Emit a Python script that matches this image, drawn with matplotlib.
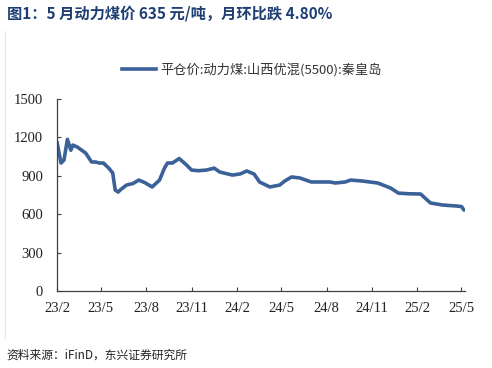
import pandas as pd
import matplotlib.pyplot as plt
from matplotlib.lines import Line2D

plt.rcParams["font.family"] = ["Noto Sans CJK SC", "DejaVu Sans"]

NAVY = "#3a6198"
TITLE_C = "#1f3f73"

# ── Data (approximate) ────────────────────────────────────────────────
dates = [
    "2023-02-01", "2023-02-04", "2023-02-09", "2023-02-15", "2023-02-22",
    "2023-03-01", "2023-03-05", "2023-03-14", "2023-03-31", "2023-04-12",
    "2023-04-20", "2023-04-28", "2023-05-06", "2023-05-17", "2023-05-25",
    "2023-05-30", "2023-06-05", "2023-06-09", "2023-06-22", "2023-07-05",
    "2023-07-17", "2023-07-30", "2023-08-13", "2023-08-28", "2023-09-07",
    "2023-09-13", "2023-09-23", "2023-10-07", "2023-10-22", "2023-11-01",
    "2023-11-15", "2023-12-01", "2023-12-17", "2023-12-28", "2024-01-23",
    "2024-02-08", "2024-02-21", "2024-03-07", "2024-03-18", "2024-04-08",
    "2024-04-28", "2024-05-08", "2024-05-22", "2024-06-08", "2024-07-01",
    "2024-08-08", "2024-08-19", "2024-09-08", "2024-09-19", "2024-10-14",
    "2024-11-13", "2024-12-09", "2024-12-25", "2025-01-15", "2025-02-08",
    "2025-02-28", "2025-03-25", "2025-04-23", "2025-05-02", "2025-05-07",
]
price = [
    1164, 1100, 1000, 1023, 1185,
    1100, 1140, 1125, 1078, 1008,
    1008, 1000, 1000, 960, 922,
    789, 773, 789, 828, 840,
    867, 845, 813, 867, 960,
    1000, 1000, 1035, 984, 945,
    940, 945, 960, 930, 906,
    915, 938, 914, 852, 813,
    828, 859, 891, 883, 852,
    852, 844, 852, 867, 859,
    844, 805, 765, 760, 758,
    688, 672, 664, 660, 633,
]
series_name = "平仓价:动力煤:山西优混(5500):秦皇岛"
yticks = [0, 300, 600, 900, 1200, 1500]
xtick_dates = ["2023-02-01", "2023-05-01", "2023-08-01", "2023-11-01", "2024-02-01",
               "2024-05-01", "2024-08-01", "2024-11-01", "2025-02-01", "2025-05-01"]
xtick_labels = ["23/2", "23/5", "23/8", "23/11", "24/2",
                "24/5", "24/8", "24/11", "25/2", "25/5"]

s = pd.Series(price, index=pd.to_datetime(dates))

fig = plt.figure(figsize=(4.92, 3.68), dpi=100)
fig.patch.set_facecolor("white")
ax = fig.add_axes([0.116, 0.209, 0.829, 0.522])

ax.plot(s.index, s.values, color=NAVY, linewidth=2.6, solid_joinstyle="round",
        solid_capstyle="round")

ax.set_ylim(0, 1500)
ax.set_yticks(yticks)
ax.set_xlim(pd.Timestamp("2023-02-01"), pd.Timestamp("2025-05-09"))
ax.set_xticks(pd.to_datetime(xtick_dates))
ax.set_xticklabels(xtick_labels)

for side in ["top", "right"]:
    ax.spines[side].set_visible(False)
for side in ["left", "bottom"]:
    ax.spines[side].set_color("#404040")
    ax.spines[side].set_linewidth(0.9)
ax.tick_params(axis="both", direction="in", length=3, color="#404040",
               labelsize=10.5, labelcolor="#222222")
ax.tick_params(axis="y", pad=10)
ax.tick_params(axis="x", pad=8)
for lbl in ax.get_xticklabels() + ax.get_yticklabels():
    lbl.set_family(["Liberation Serif", "DejaVu Serif"])

# legend (top centre)
fig.legend(handles=[Line2D([], [], color=NAVY, linewidth=2.6)], labels=[series_name],
           loc="center", bbox_to_anchor=(0.512, 0.81), frameon=False,
           fontsize=9.5, handlelength=2.6, handletextpad=0.3, labelcolor="#333333")

# title & source
fig.text(0.014, 0.962, "图1：5 月动力煤价 635 元/吨，月环比跌 4.80%",
         fontsize=11, fontweight="bold", color=TITLE_C, va="center", ha="left")
fig.text(0.014, 0.035, "资料来源：iFinD，东兴证券研究所",
         fontsize=8.5, style="italic", color="#222222", va="center", ha="left")

# faint frame line on the left
fig.add_artist(Line2D([0.011, 0.011], [0.082, 0.915], color="#e6e6e6", linewidth=0.8))

fig.savefig("out.png", dpi=100)
